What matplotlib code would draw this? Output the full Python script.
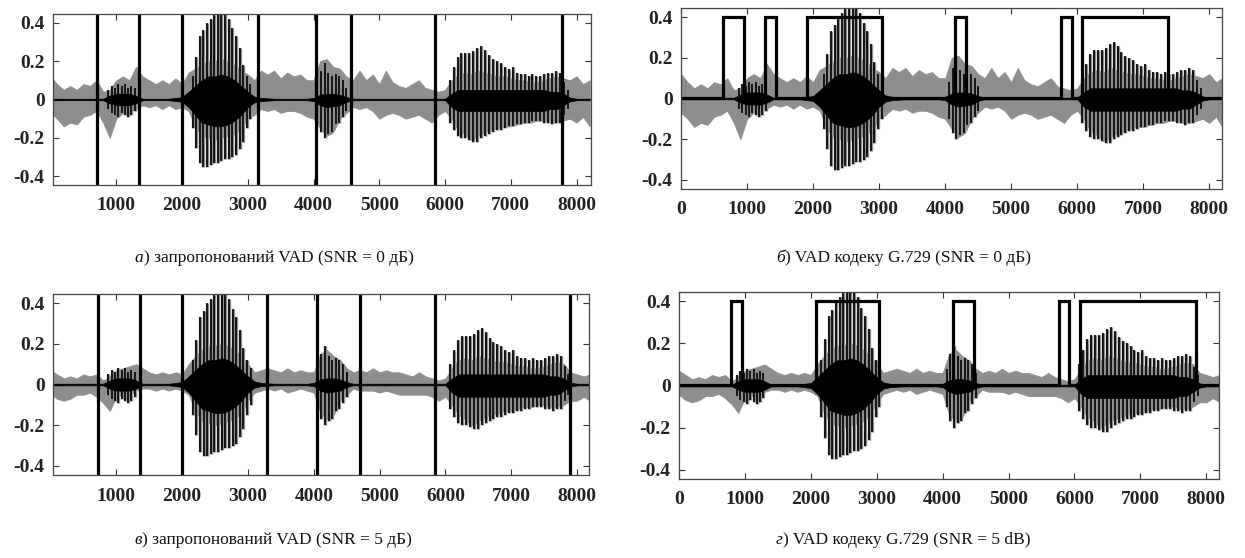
import numpy as np
import matplotlib.pyplot as plt

plt.rcParams['font.family'] = ['Liberation Serif', 'DejaVu Serif']
plt.rcParams['font.weight'] = 'bold'
plt.rcParams['axes.unicode_minus'] = False

# envelope sample positions (every 100 samples)
env_x = np.arange(0, 8201, 100)

# noisy signal envelope, SNR = 0 dB
g0_hi = [0.12, 0.08, 0.05, 0.07, 0.05, 0.08, 0.07, 0.10, 0.04, 0.05,
         0.10, 0.12, 0.10, 0.17, 0.12, 0.10, 0.08, 0.10, 0.08, 0.11,
         0.08, 0.14, 0.16, 0.18, 0.20, 0.20, 0.21, 0.20, 0.18, 0.15,
         0.13, 0.10, 0.15, 0.13, 0.15, 0.11, 0.14, 0.12, 0.13, 0.10,
         0.10, 0.20, 0.21, 0.17, 0.16, 0.12, 0.10, 0.15, 0.10, 0.13,
         0.08, 0.15, 0.09, 0.07, 0.06, 0.08, 0.10, 0.06, 0.05, 0.04,
         0.05, 0.10, 0.13, 0.14, 0.13, 0.15, 0.14, 0.13, 0.12, 0.12,
         0.11, 0.10, 0.10, 0.09, 0.09, 0.10, 0.11, 0.12, 0.11, 0.10,
         0.12, 0.08, 0.10]
g0_lo = [-0.07, -0.10, -0.14, -0.12, -0.13, -0.09, -0.08, -0.06, -0.12, -0.20,
         -0.10, -0.07, -0.06, -0.05, -0.03, -0.04, -0.03, -0.05, -0.03, -0.05,
         -0.04, -0.06, -0.14, -0.19, -0.20, -0.21, -0.20, -0.19, -0.18, -0.15,
         -0.10, -0.08, -0.05, -0.06, -0.05, -0.07, -0.06, -0.06, -0.07, -0.09,
         -0.10, -0.15, -0.19, -0.17, -0.10, -0.07, -0.04, -0.05, -0.04, -0.06,
         -0.10, -0.08, -0.07, -0.08, -0.10, -0.09, -0.08, -0.10, -0.12, -0.08,
         -0.06, -0.10, -0.16, -0.18, -0.21, -0.19, -0.17, -0.16, -0.15, -0.14,
         -0.14, -0.13, -0.12, -0.12, -0.11, -0.11, -0.12, -0.12, -0.11, -0.10,
         -0.12, -0.09, -0.14]

# noisy signal envelope, SNR = 5 dB
g5_hi = [0.07, 0.05, 0.03, 0.04, 0.03, 0.05, 0.04, 0.05, 0.02, 0.04,
         0.07, 0.08, 0.09, 0.10, 0.08, 0.06, 0.05, 0.06, 0.05, 0.06,
         0.05, 0.10, 0.14, 0.17, 0.19, 0.19, 0.20, 0.19, 0.17, 0.14,
         0.10, 0.06, 0.07, 0.08, 0.07, 0.06, 0.08, 0.06, 0.07, 0.06,
         0.06, 0.15, 0.17, 0.14, 0.12, 0.08, 0.06, 0.07, 0.06, 0.08,
         0.06, 0.07, 0.06, 0.06, 0.05, 0.04, 0.06, 0.04, 0.03, 0.02,
         0.03, 0.08, 0.12, 0.13, 0.12, 0.14, 0.13, 0.12, 0.11, 0.11,
         0.10, 0.09, 0.09, 0.08, 0.08, 0.09, 0.10, 0.11, 0.10, 0.06,
         0.05, 0.04, 0.05]
g5_lo = [-0.045, -0.07, -0.08, -0.07, -0.05, -0.05, -0.04, -0.06, -0.09, -0.13,
         -0.06, -0.05, -0.05, -0.03, -0.02, -0.02, -0.03, -0.02, -0.03, -0.02,
         -0.03, -0.05, -0.13, -0.18, -0.19, -0.20, -0.19, -0.18, -0.17, -0.14,
         -0.08, -0.04, -0.03, -0.02, -0.03, -0.02, -0.04, -0.03, -0.02, -0.03,
         -0.04, -0.14, -0.17, -0.15, -0.08, -0.05, -0.02, -0.03, -0.03, -0.03,
         -0.04, -0.03, -0.04, -0.05, -0.05, -0.05, -0.05, -0.05, -0.06, -0.08,
         -0.06, -0.10, -0.15, -0.17, -0.20, -0.18, -0.16, -0.15, -0.14, -0.13,
         -0.13, -0.12, -0.11, -0.11, -0.10, -0.10, -0.11, -0.11, -0.10, -0.08,
         -0.08, -0.06, -0.08]

# clean speech, dense core envelope
core_hi = [0.004, 0.004, 0.004, 0.004, 0.004, 0.004, 0.004, 0.004, 0.004, 0.02,
           0.03, 0.03, 0.03, 0.02, 0.004, 0.004, 0.004, 0.004, 0.004, 0.008,
           0.012, 0.04, 0.07, 0.10, 0.12, 0.12, 0.13, 0.12, 0.10, 0.07,
           0.04, 0.015, 0.008, 0.006, 0.004, 0.004, 0.004, 0.004, 0.004, 0.004,
           0.008, 0.025, 0.03, 0.03, 0.025, 0.012, 0.004, 0.004, 0.004, 0.004,
           0.004, 0.004, 0.004, 0.004, 0.004, 0.004, 0.004, 0.004, 0.004, 0.004,
           0.004, 0.03, 0.05, 0.05, 0.05, 0.05, 0.05, 0.05, 0.05, 0.05,
           0.05, 0.05, 0.05, 0.05, 0.05, 0.05, 0.04, 0.04, 0.03, 0.01,
           0.004, 0.004, 0.004]
core_lo = [-0.004, -0.004, -0.004, -0.004, -0.004, -0.004, -0.004, -0.004, -0.004, -0.02,
           -0.03, -0.03, -0.03, -0.02, -0.004, -0.004, -0.004, -0.004, -0.004, -0.008,
           -0.012, -0.04, -0.08, -0.12, -0.13, -0.14, -0.14, -0.13, -0.11, -0.08,
           -0.04, -0.015, -0.008, -0.006, -0.004, -0.004, -0.004, -0.004, -0.004, -0.004,
           -0.008, -0.03, -0.04, -0.035, -0.03, -0.012, -0.004, -0.004, -0.004, -0.004,
           -0.004, -0.004, -0.004, -0.004, -0.004, -0.004, -0.004, -0.004, -0.004, -0.004,
           -0.004, -0.04, -0.06, -0.06, -0.06, -0.06, -0.06, -0.06, -0.06, -0.06,
           -0.06, -0.06, -0.06, -0.06, -0.06, -0.06, -0.05, -0.05, -0.03, -0.01,
           -0.004, -0.004, -0.004]

# clean speech pitch pulses: position, top, bottom
spk_x = [880, 930, 980, 1030, 1080, 1130, 1180, 1230, 1280,
         2160, 2215, 2270, 2325, 2380, 2435, 2490, 2545, 2600, 2655, 2710, 2765, 2820, 2875, 2930, 2985, 3040,
         4060, 4115, 4170, 4225, 4280, 4335, 4390, 4445, 4500,
         6070, 6130, 6190, 6250, 6310, 6370, 6430, 6490, 6550, 6610, 6670, 6730, 6790, 6850, 6910,
         6970, 7030, 7090, 7150, 7210, 7270, 7330, 7390, 7450, 7510, 7570, 7630, 7690, 7750, 7810, 7870]
spk_top = [0.05, 0.07, 0.06, 0.08, 0.07, 0.08, 0.06, 0.07, 0.06,
           0.12, 0.22, 0.33, 0.36, 0.40, 0.42, 0.44, 0.45, 0.45, 0.45, 0.42, 0.37, 0.33, 0.27, 0.18, 0.12, 0.08,
           0.08, 0.15, 0.19, 0.14, 0.12, 0.13, 0.12, 0.10, 0.06,
           0.10, 0.17, 0.22, 0.24, 0.24, 0.24, 0.25, 0.27, 0.28, 0.26, 0.23, 0.21, 0.20, 0.19, 0.17,
           0.16, 0.17, 0.14, 0.13, 0.13, 0.12, 0.13, 0.12, 0.12, 0.13, 0.14, 0.14, 0.15, 0.14, 0.09, 0.05]
spk_bot = [-0.05, -0.07, -0.08, -0.09, -0.07, -0.08, -0.09, -0.08, -0.06,
           -0.15, -0.25, -0.33, -0.35, -0.35, -0.34, -0.33, -0.33, -0.32, -0.31, -0.31, -0.30, -0.29, -0.26, -0.22, -0.15, -0.10,
           -0.10, -0.17, -0.20, -0.18, -0.17, -0.13, -0.12, -0.09, -0.06,
           -0.12, -0.16, -0.19, -0.20, -0.20, -0.21, -0.22, -0.22, -0.20, -0.19, -0.18, -0.17, -0.16, -0.16, -0.15,
           -0.14, -0.14, -0.13, -0.13, -0.12, -0.12, -0.11, -0.11, -0.11, -0.12, -0.12, -0.13, -0.12, -0.12, -0.08, -0.05]

# proposed VAD: decision boundaries
prop_vad_0 = [708, 1350, 1996, 3151, 4044, 4566, 5848, 7772]
prop_vad_5 = [723, 1359, 2000, 3290, 4050, 4698, 5848, 7894]
# G.729 VAD: active segments
g729_0 = [(641, 959), (1273, 1439), (1909, 3050), (4156, 4318), (5758, 5924), (6076, 7368)]
g729_5 = [(785, 962), (2074, 3040), (4153, 4481), (5762, 5914), (6076, 7837)]

captions = [('а', ') запропонований VAD (SNR = 0 дБ)'),
            ('б', ') VAD кодеку G.729 (SNR = 0 дБ)'),
            ('в', ') запропонований VAD (SNR = 5 дБ)'),
            ('г', ') VAD кодеку G.729 (SNR = 5 dB)')]

GREY = '#8e8e8e'

fig = plt.figure(figsize=(12.45, 5.58), dpi=100)
ax_tl = fig.add_axes([0.0426, 0.6685, 0.4321, 0.3065])
ax_tr = fig.add_axes([0.5470, 0.6613, 0.4345, 0.3244])
ax_bl = fig.add_axes([0.0426, 0.1487, 0.4305, 0.3244])
ax_br = fig.add_axes([0.5454, 0.1416, 0.4337, 0.3351])


def draw_signal(ax, g_hi, g_lo):
    ax.fill_between(env_x, g_lo, g_hi, color=GREY, lw=0.6, zorder=1)
    ax.vlines(spk_x, spk_bot, spk_top, color=GREY, lw=2.4, zorder=1.5)
    ax.fill_between(env_x, core_lo, core_hi, color='black', lw=0.5, zorder=2)
    ax.vlines(spk_x, spk_bot, spk_top, color='black', lw=1.2, zorder=2.5)


def style(ax, xlim, xticks):
    ax.set_xlim(*xlim)
    ax.set_ylim(-0.445, 0.445)
    ax.set_xticks(xticks)
    ax.set_xticklabels([str(t) for t in xticks])
    ax.set_yticks([-0.4, -0.2, 0, 0.2, 0.4])
    ax.set_yticklabels(['-0.4', '-0.2', '0', '0.2', '0.4'])
    ax.tick_params(direction='in', top=True, right=True, length=4, width=0.8,
                   labelsize=14, colors='#333333', labelcolor='#222222')
    ax.tick_params(axis='x', pad=9)
    ax.tick_params(axis='y', pad=6)
    for s in ax.spines.values():
        s.set_color('#444444')
        s.set_linewidth(0.9)
        s.set_zorder(4)


# left: proposed VAD
for ax, g_hi, g_lo, vad, xlim in [(ax_tl, g0_hi, g0_lo, prop_vad_0, (38, 8220)),
                                  (ax_bl, g5_hi, g5_lo, prop_vad_5, (38, 8182))]:
    draw_signal(ax, g_hi, g_lo)
    for v in vad:
        ax.axvline(v, color='black', lw=2.3, zorder=3)
    style(ax, xlim, list(range(1000, 8001, 1000)))

# right: G.729 VAD
for ax, g_hi, g_lo, segs in [(ax_tr, g0_hi, g0_lo, g729_0), (ax_br, g5_hi, g5_lo, g729_5)]:
    draw_signal(ax, g_hi, g_lo)
    sx, sy = [0], [0]
    for a, b in segs:
        sx += [a, a, b, b]
        sy += [0, 0.4, 0.4, 0]
    sx.append(8192)
    sy.append(0)
    ax.plot(sx, sy, color='black', lw=2.3, solid_joinstyle='miter', zorder=3)
    style(ax, (0, 8192), list(range(0, 8001, 1000)))

# captions (italic letter + regular text)
cap_pos = [(0.1084, 0.5376), (0.6233, 0.5376), (0.1084, 0.0323), (0.6233, 0.0323)]
for (letter, rest), (cx, cy) in zip(captions, cap_pos):
    t1 = fig.text(cx, cy, letter, fontsize=12.5, style='italic', weight='normal',
                  va='center', ha='left', color='#111111')
    ax_tl.annotate(rest, xy=(1, 0), xycoords=t1, va='bottom', ha='left',
                   fontsize=12.5, weight='normal', color='#111111', annotation_clip=False)

fig.savefig('out.png', dpi=100)
